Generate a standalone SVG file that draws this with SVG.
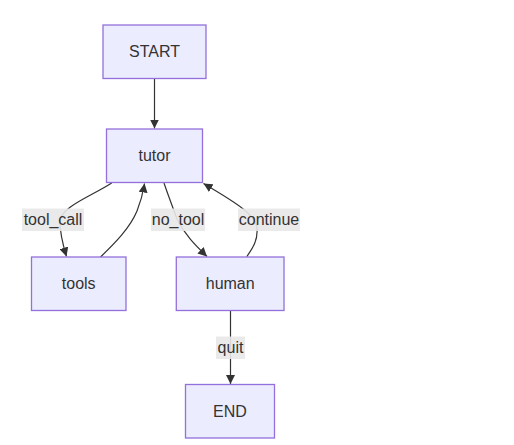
<svg xmlns="http://www.w3.org/2000/svg" width="514" height="445" viewBox="0 0 514 445">
<defs>
<marker id="arr" viewBox="0 0 10 10" refX="10" refY="5" markerUnits="userSpaceOnUse" markerWidth="9" markerHeight="9" orient="auto">
<path d="M0,0 L10,5 L0,10 z" fill="#333"/>
</marker>
<style>
.node rect{fill:#ECECFF;stroke:#9370DB;stroke-width:1.3}
.node text{font-family:"Liberation Sans",Arial,sans-serif;font-size:16px;fill:#333;text-anchor:middle;dominant-baseline:central}
.edge{fill:none;stroke:#333;stroke-width:1.2;marker-end:url(#arr)}
.lbl rect{fill:#e8e8e8;fill-opacity:0.9}
.lbl text{font-family:"Liberation Sans",Arial,sans-serif;font-size:16px;fill:#333;text-anchor:middle;dominant-baseline:central}
</style>
</defs>
<rect width="514" height="445" fill="#fff"/>
<g id="connectors">
<path class="edge" d="M154.5,78.5 L154.5,128.5"/>
<path class="edge" d="M111.7,183 C90,197 60,207 60,222 C60,235 63,245 66.5,256.5"/>
<path class="edge" d="M100.5,257 C115,243 130,228 137,211 C141,201 143,193 144.5,183.5"/>
<path class="edge" d="M164,183 C168,195 172,205 177,219 C185,235 195,245 207,256.5"/>
<path class="edge" d="M246.7,256.7 C253,248 258,240 257,228 C255,215 240,205 203.5,183.5"/>
<path class="edge" d="M230.5,311 L230.5,384"/>
</g>
<g id="edge-labels">
<g class="lbl"><rect x="22" y="208.5" width="62" height="22.5"/><text x="53" y="219.5">tool_call</text></g>
<g class="lbl"><rect x="151" y="208.5" width="54" height="22.5"/><text x="178" y="219.5">no_tool</text></g>
<g class="lbl"><rect x="238" y="208.5" width="62" height="22.5"/><text x="269" y="219.5">continue</text></g>
<g class="lbl"><rect x="216" y="336.5" width="29" height="22.5"/><text x="230.5" y="347.5">quit</text></g>
</g>
<g id="START" class="node"><rect x="103" y="25" width="103" height="53.5"/><text x="154.5" y="51.5">START</text></g>
<g id="tutor" class="node"><rect x="106.5" y="129" width="96" height="53.5"/><text x="154.5" y="155.5">tutor</text></g>
<g id="tools" class="node"><rect x="31.5" y="257" width="94.5" height="53.5"/><text x="78.7" y="283.5">tools</text></g>
<g id="human" class="node"><rect x="176.3" y="257" width="107.7" height="53.5"/><text x="230.2" y="283.5">human</text></g>
<g id="END" class="node"><rect x="185.5" y="384.5" width="89" height="53.5"/><text x="230" y="411">END</text></g>
</svg>
